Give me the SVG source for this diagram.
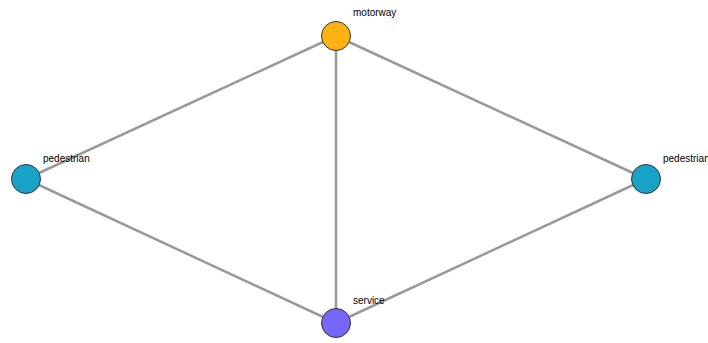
<svg xmlns="http://www.w3.org/2000/svg" width="708" height="343" viewBox="0 0 708 343">
  <style>
    .edge { stroke: #999999; stroke-width: 2.5; fill: none; }
    .node { stroke: #333333; stroke-width: 1; }
    .label { font-family: "Liberation Sans", Arial, sans-serif; font-size: 10px; fill: #000000; }
  </style>
  <rect width="708" height="343" fill="#ffffff"/>
  <g id="edges">
    <line class="edge" x1="336" y1="36" x2="26" y2="179"/>
    <line class="edge" x1="336" y1="36" x2="646" y2="179"/>
    <line class="edge" x1="336" y1="36" x2="336" y2="323"/>
    <line class="edge" x1="26" y1="179" x2="336" y2="323"/>
    <line class="edge" x1="646" y1="179" x2="336" y2="323"/>
  </g>
  <g id="motorway">
    <circle class="node" cx="336" cy="36" r="14.5" fill="#fdb213"/>
    <text class="label" x="353" y="16">motorway</text>
  </g>
  <g id="pedestrian-left">
    <circle class="node" cx="26" cy="179" r="14.5" fill="#17a2c6"/>
    <text class="label" x="43" y="162">pedestrian</text>
  </g>
  <g id="pedestrian-right">
    <circle class="node" cx="646" cy="179" r="14.5" fill="#17a2c6"/>
    <text class="label" x="663" y="162">pedestrian</text>
  </g>
  <g id="service">
    <circle class="node" cx="336" cy="323" r="14.5" fill="#7766f8"/>
    <text class="label" x="353" y="304">service</text>
  </g>
</svg>
